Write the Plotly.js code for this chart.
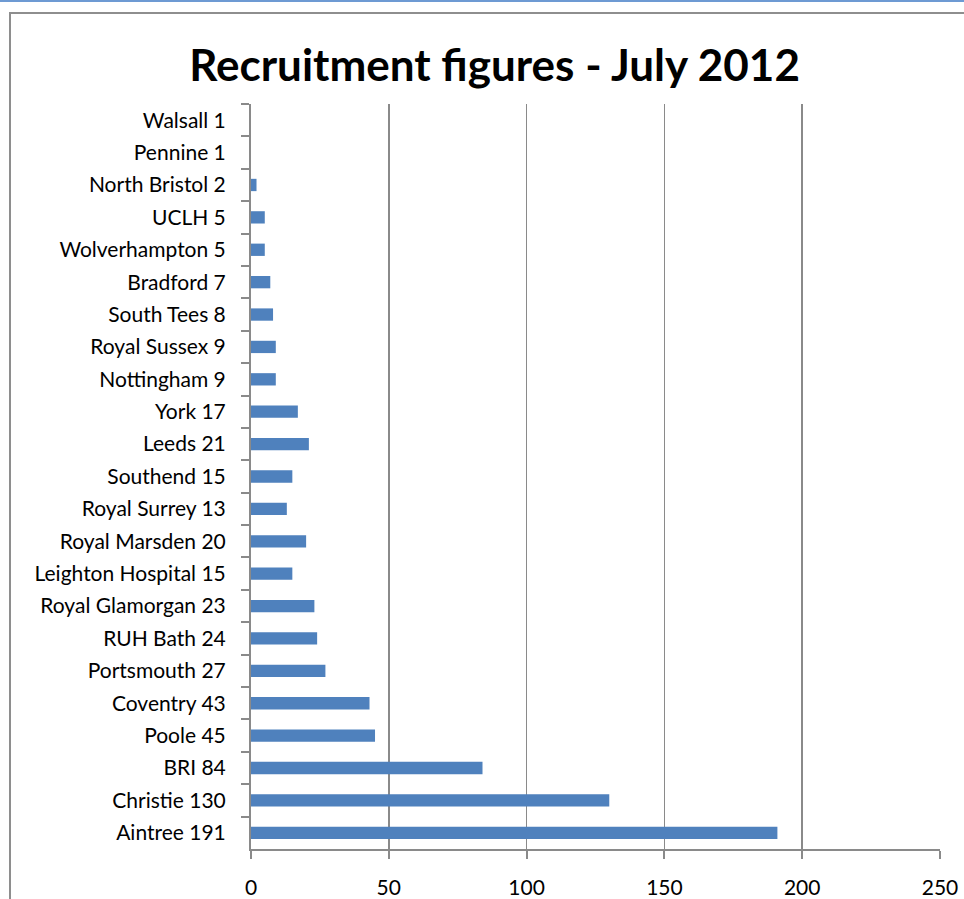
<!DOCTYPE html>
<html>
<head>
<meta charset="utf-8">
<script src="https://cdn.plot.ly/plotly-3.0.1.min.js"></script>
<style>
  html, body { margin: 0; padding: 0; background: #ffffff; }
  #wrap { position: relative; width: 964px; height: 899px; overflow: hidden; }
  #topline { position: absolute; left: 0; top: 0; width: 964px; height: 2px; background: #6d9ad3; }
  #frame { position: absolute; left: 9px; top: 12px; width: 1000px; height: 1000px; border: 2px solid #8e8e8e; box-sizing: border-box; }
  #chart { position: absolute; left: 0; top: 0; width: 964px; height: 899px; }
</style>
</head>
<body>
<div id="wrap">
  <div id="topline"></div>
  <div id="frame"></div>
  <div id="chart"></div>
</div>
<script>
const categories = [
  "Walsall 1", "Pennine 1", "North Bristol 2", "UCLH 5", "Wolverhampton 5",
  "Bradford 7", "South Tees 8", "Royal Sussex 9", "Nottingham 9", "York 17",
  "Leeds 21", "Southend 15", "Royal Surrey 13", "Royal Marsden 20",
  "Leighton Hospital 15", "Royal Glamorgan 23", "RUH Bath 24", "Portsmouth 27",
  "Coventry 43", "Poole 45", "BRI 84", "Christie 130", "Aintree 191"
];
// bar lengths as drawn in the picture (Walsall and Pennine show no visible bar)
const recruits = [
  0, 0, 2, 5, 5,
  7, 8, 9, 9, 17,
  21, 15, 13, 20,
  15, 23, 24, 27,
  43, 45, 84, 130, 191
];
const xTicks = [0, 50, 100, 150, 200, 250];
const chartTitle = "Recruitment figures - July 2012";

const FONT = "Lato, 'Open Sans', sans-serif";
const GRID = "#8a8a8a";

const trace = {
  type: "bar",
  orientation: "h",
  y: categories,
  x: recruits,
  marker: { color: "#4f81bd" },
  hoverinfo: "x+y"
};

const layout = {
  width: 964,
  height: 899,
  paper_bgcolor: "rgba(0,0,0,0)",
  plot_bgcolor: "rgba(0,0,0,0)",
  margin: { l: 251, r: 24, t: 104, b: 50 },
  bargap: 0.62,
  showlegend: false,
  title: {
    text: "<b>" + chartTitle + "</b>",
    font: { family: FONT, size: 44, color: "#000000" },
    x: 0.513, xanchor: "center",
    y: 0.927, yanchor: "middle"
  },
  xaxis: {
    range: [0, 250],
    tickvals: xTicks,
    ticktext: xTicks.map(String),
    showgrid: true,
    gridcolor: GRID,
    gridwidth: 1.5,
    zeroline: false,
    showline: true,
    linecolor: GRID,
    linewidth: 2,
    ticks: "outside",
    ticklen: 8,
    tickwidth: 2,
    tickcolor: GRID,
    ticklabelstandoff: 11,
    tickfont: { family: FONT, size: 21, color: "#000000" },
    fixedrange: true
  },
  yaxis: {
    type: "category",
    autorange: "reversed",
    showgrid: false,
    zeroline: false,
    showline: true,
    linecolor: GRID,
    linewidth: 2,
    ticks: "outside",
    tickson: "boundaries",
    ticklen: 8,
    tickwidth: 2,
    tickcolor: GRID,
    ticklabelstandoff: 19,
    tickfont: { family: FONT, size: 21, color: "#000000" },
    fixedrange: true
  }
};

Plotly.newPlot("chart", [trace], layout, { displayModeBar: false, staticPlot: true });
</script>
</body>
</html>
